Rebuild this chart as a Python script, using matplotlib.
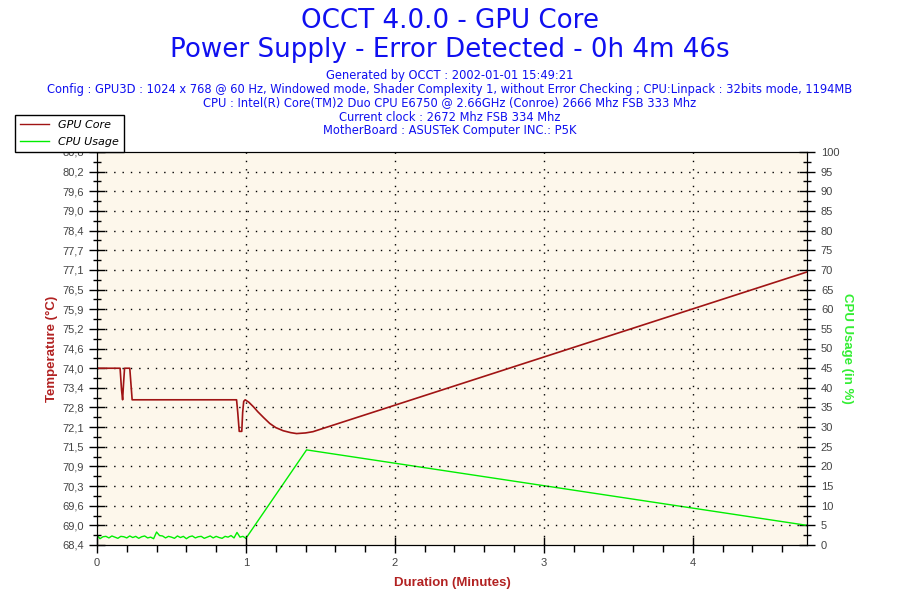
import matplotlib
matplotlib.use('Agg')

import matplotlib.pyplot as plt
import numpy as np

# GPU core temperature (minutes, deg C)
temp_t = [0.0, 0.155, 0.165, 0.172, 0.178, 0.185, 0.22, 0.228, 0.236, 0.937, 0.945, 0.955, 0.972,
          0.978, 0.985, 0.995, 1.02, 1.05, 1.08, 1.12, 1.16, 1.2, 1.25, 1.3, 1.34, 1.4, 1.45, 4.767]
temp_v = [74.0, 74.0, 73.3, 73.0, 73.5, 74.0, 74.0, 73.5, 73.0, 73.0, 72.6, 72.0, 72.0,
          72.6, 72.95, 73.0, 72.92, 72.78, 72.62, 72.43, 72.25, 72.12, 72.02, 71.96, 71.93, 71.95, 71.99, 77.05]

# CPU usage, idle part sampled every 0.02 min, then load ramp
cpu_idle = [2.5, 1.6, 2.1, 2.2, 1.8, 2.3, 2.0, 1.7, 2.2, 2.1, 1.8, 2.3, 1.9, 2.2, 1.7, 2.1, 2.3,
            1.8, 2.0, 1.6, 3.3, 2.4, 2.3, 1.8, 2.2, 2.0, 1.7, 2.3, 1.9, 2.2, 1.6, 2.1, 2.3, 1.8,
            2.1, 2.2, 1.7, 2.0, 2.3, 1.8, 2.2, 1.9, 1.7, 2.2, 2.0, 2.4, 1.8, 3.2, 2.0, 2.2, 1.7]
cpu_ramp_t = [1.407, 4.767]
cpu_ramp_v = [24.2, 5.0]

temp_ticklabels = ['68,4', '69,0', '69,6', '70,3', '70,9', '71,5', '72,1', '72,8', '73,4', '74,0', '74,6',
                   '75,2', '75,9', '76,5', '77,1', '77,7', '78,4', '79,0', '79,6', '80,2', '80,8']

title_lines = ['OCCT 4.0.0 - GPU Core', 'Power Supply - Error Detected - 0h 4m 46s']
info_lines = ['Generated by OCCT : 2002-01-01 15:49:21',
              'Config : GPU3D : 1024 x 768 @ 60 Hz, Windowed mode, Shader Complexity 1, without Error Checking ; CPU:Linpack : 32bits mode, 1194MB',
              'CPU : Intel(R) Core(TM)2 Duo CPU E6750 @ 2.66GHz (Conroe) 2666 Mhz FSB 333 Mhz',
              'Current clock : 2672 Mhz FSB 334 Mhz',
              'MotherBoard : ASUSTeK Computer INC.: P5K']

red = '#a01414'
green = '#00ee00'
blue = '#1010f0'

fig = plt.figure(figsize=(9, 6), dpi=100)
ax = fig.add_axes([97/900, 1-545/600, 710/900, 393/600])
ax2 = ax.twinx()

tmin, tmax = 68.4, 68.4 + 20*0.6225
yt = np.linspace(tmin, tmax, len(temp_ticklabels))
ax.set_ylim(tmin, tmax)
ax.set_yticks(yt)
ax.set_yticklabels(temp_ticklabels)
ax.set_yticks((yt[:-1] + yt[1:]) / 2, minor=True)
ax.set_xlim(0, 4.767)
ax.set_xticks([0, 1, 2, 3, 4])
ax.set_xticks(np.arange(0, 4.767, 0.2), minor=True)

for v in yt[1:-1]:
    ax.axhline(v, color='black', lw=1, ls=(0, (1, 5)), zorder=1)
for v in [1, 2, 3, 4]:
    ax.axvline(v, color='black', lw=1, ls=(0, (1, 5)), zorder=1)

ax2.plot(np.linspace(0, 1.0, len(cpu_idle)), cpu_idle, color=green, lw=1)
ax2.plot([1.0] + cpu_ramp_t, [cpu_idle[-1]] + cpu_ramp_v, color=green, lw=1)
ax2.set_ylim(0, 100)
ax2.set_yticks(np.arange(0, 101, 5))
ax2.set_yticks(np.arange(2.5, 100, 5), minor=True)

# temperature axes on top, cream background drawn by the cpu axes
ax.set_zorder(ax2.get_zorder() + 1)
ax.patch.set_visible(False)
ax2.patch.set_visible(True)
ax2.patch.set_facecolor('#fdf7eb')
ax.plot(temp_t, temp_v, color=red, lw=1.2)

for a in (ax, ax2):
    a.tick_params(which='major', direction='inout', length=12, width=1, colors='black', labelcolor='#444444')
    a.tick_params(which='minor', direction='inout', length=6, width=1, colors='black')
    for lbl in a.get_xticklabels() + a.get_yticklabels():
        lbl.set_fontfamily('Liberation Sans')
        lbl.set_fontsize(8)
    for s in a.spines.values():
        s.set_color('black')
ax.tick_params(axis='x', which='minor', direction='out', length=5)
ax2.tick_params(axis='y', which='major', pad=4)

ax.set_xlabel('Duration (Minutes)', color='#b22222', fontweight='bold', fontsize=9.5, family='Liberation Sans', labelpad=6)
ax.set_ylabel('Temperature (°C)', color='#b22222', fontweight='bold', fontsize=9.5, family='Liberation Sans', labelpad=3)
ax2.set_ylabel('CPU Usage (in %)', color='#33ee33', fontweight='bold', fontsize=9.5, family='Liberation Sans',
               rotation=-90, labelpad=10)

fig.text(0.5, 1-21/600, title_lines[0], ha='center', va='center', color=blue, fontsize=18.8)
fig.text(0.5, 1-50/600, title_lines[1], ha='center', va='center', color=blue, fontsize=18.8)
for i, line in enumerate(info_lines):
    fig.text(0.5, 1-(75+14*i)/600, line, ha='center', va='center', color=blue, fontsize=8.3)

h1, = ax.plot([], [], color=red, lw=1)
h2, = ax.plot([], [], color=green, lw=1)
leg = fig.legend([h1, h2], ['GPU Core', 'CPU Usage'], loc='upper left', bbox_to_anchor=(15/900, 1-115/600),
                 frameon=True, fancybox=False, edgecolor='black', framealpha=1, borderpad=0.45,
                 handlelength=2.6, handletextpad=0.8, labelspacing=0.6, borderaxespad=0,
                 prop=dict(size=8, style='italic'))
leg.get_frame().set_linewidth(1)
leg.set_zorder(10)

fig.savefig('out.png', dpi=100)
